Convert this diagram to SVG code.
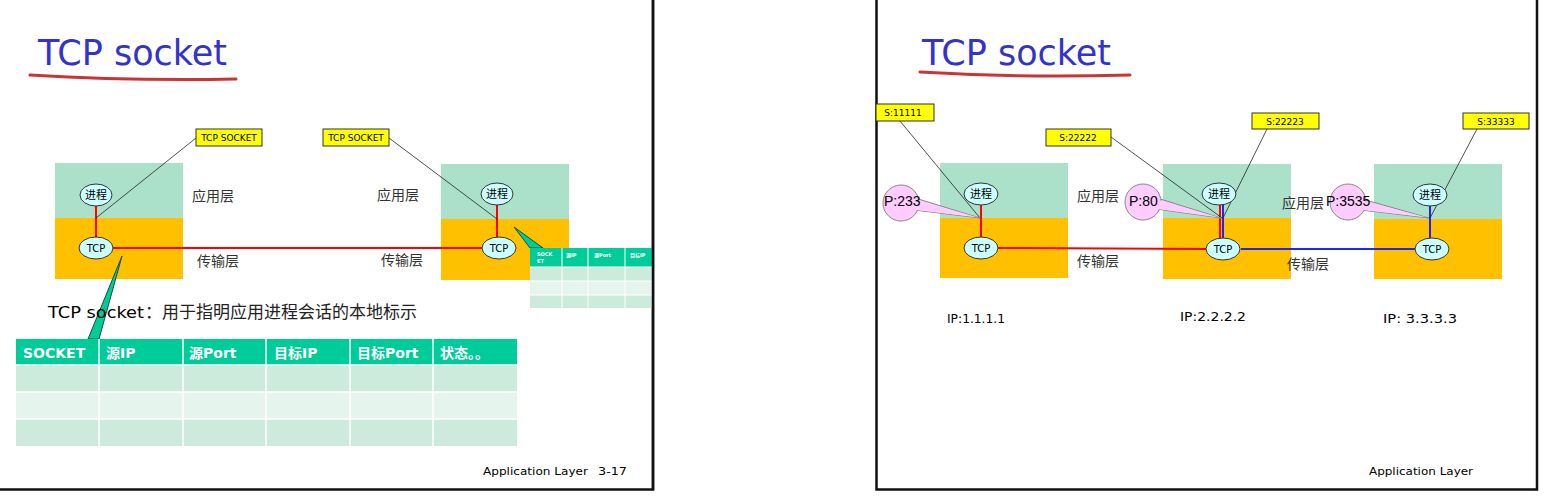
<svg xmlns="http://www.w3.org/2000/svg" width="1544" height="497" viewBox="0 0 1544 497">
<style>
.title{font-family:"DejaVu Sans",sans-serif;font-size:36px;fill:#3333CC}
.uline{fill:none;stroke:#CC3333;stroke-width:3;stroke-linecap:round}
.app{fill:#ABE1CA}
.tra{fill:#FFC000}
.ell{fill:#CCFFFF;stroke:#333;stroke-width:1}
.et{font-family:"Noto Sans CJK SC",sans-serif;font-size:11px;fill:#000;text-anchor:middle}
.tcpt{font-family:"DejaVu Sans",sans-serif;font-size:10px;fill:#000;text-anchor:middle}
.layer{font-family:"Noto Sans CJK SC",sans-serif;font-size:14px;fill:#333}
.lbl{fill:#FFFF00;stroke:#333;stroke-width:1}
.lblt{font-family:"DejaVu Sans",sans-serif;font-size:9px;fill:#000;text-anchor:middle}
.red{stroke:#FF0000;stroke-width:2;fill:none}
.blue{stroke:#2222FF;stroke-width:2;fill:none}
.thin{stroke:#222;stroke-width:0.8;fill:none}
.pink{fill:#FFCCFF;stroke:#888;stroke-width:1}
.pt{font-family:"Liberation Sans",sans-serif;font-size:14px;fill:#000}
.teal{fill:#00CC99;stroke:#1A4D3D;stroke-width:1}
.th{fill:#00CC99}
.r1{fill:#CCEBDD}
.r2{fill:#E6F4EE}
.grid{stroke:#FFFFFF;stroke-width:1.5}
.tht{font-family:"DejaVu Sans","Noto Sans CJK SC",sans-serif;font-size:14px;font-weight:bold;fill:#FFFFFF}
.ip{font-family:"DejaVu Sans",sans-serif;font-size:12px;fill:#000}
.foot{font-family:"DejaVu Sans",sans-serif;font-size:11px;fill:#000}
.border{stroke:#111;stroke-width:2.5;fill:none}
</style>

<!-- Slide frames -->
<g id="frames">
<polyline class="border" points="0,489.5 653,489.5 653,0"/>
<polyline class="border" points="876.5,0 876.5,489.5 1537,489.5 1537,0"/>
</g>

<!-- Titles -->
<g id="title-left">
<text class="title" x="38" y="65" textLength="189" lengthAdjust="spacingAndGlyphs">TCP socket</text>
<path class="uline" d="M30,75 Q130,81 236,79"/>
</g>
<g id="title-right">
<text class="title" x="922" y="65" textLength="189" lengthAdjust="spacingAndGlyphs">TCP socket</text>
<path class="uline" d="M920,72 Q1020,78 1130,75"/>
</g>

<!-- Left slide nodes -->
<g id="host-a">
<rect class="app" x="55" y="163" width="128" height="55"/>
<rect class="tra" x="55" y="218" width="128" height="61"/>
</g>
<g id="host-b">
<rect class="app" x="441" y="164" width="128" height="55"/>
<rect class="tra" x="441" y="219" width="128" height="61"/>
</g>
<g id="layer-labels-left">
<text class="layer" x="192" y="201">应用层</text>
<text class="layer" x="197" y="266">传输层</text>
<text class="layer" x="377" y="200">应用层</text>
<text class="layer" x="381" y="265">传输层</text>
</g>

<!-- Right slide nodes -->
<g id="host-1">
<rect class="app" x="940" y="163" width="128" height="55"/>
<rect class="tra" x="940" y="218" width="128" height="60"/>
</g>
<g id="host-2">
<rect class="app" x="1163" y="164" width="128" height="54"/>
<rect class="tra" x="1163" y="218" width="128" height="61"/>
</g>
<g id="host-3">
<rect class="app" x="1374" y="164" width="128" height="55"/>
<rect class="tra" x="1374" y="219" width="128" height="60"/>
</g>
<g id="layer-labels-right">
<text class="layer" x="1077" y="201">应用层</text>
<text class="layer" x="1077" y="266">传输层</text>
<text class="layer" x="1282" y="208">应用层</text>
<text class="layer" x="1287" y="269">传输层</text>
</g>

<!-- Connectors -->
<g id="connectors">
<line class="red" x1="96" y1="206" x2="96" y2="237"/>
<line class="red" x1="113" y1="248" x2="483" y2="248"/>
<line class="red" x1="497" y1="205" x2="497" y2="237"/>
<line class="thin" x1="196" y1="138" x2="96" y2="218"/>
<line class="thin" x1="389" y1="138" x2="497" y2="219"/>

<line class="red" x1="981" y1="205" x2="981" y2="237"/>
<line class="red" x1="998" y1="248" x2="1206" y2="249"/>
<line class="red" x1="1220" y1="205" x2="1220" y2="238"/>
<line class="blue" x1="1223" y1="205" x2="1223" y2="238"/>
<line class="blue" x1="1241" y1="249" x2="1415" y2="249"/>
<line class="blue" x1="1430" y1="206" x2="1430" y2="238"/>
<line class="thin" x1="900" y1="121" x2="980" y2="218"/>
<line class="thin" x1="1111" y1="137" x2="1222" y2="218"/>
<line class="thin" x1="1267" y1="129" x2="1223" y2="218"/>
<line class="thin" x1="1477" y1="129" x2="1430" y2="218"/>
</g>

<!-- Process / TCP ellipses -->
<g id="proc-a"><ellipse class="ell" cx="96" cy="195" rx="16" ry="11"/><text class="et" x="96" y="199">进程</text></g>
<g id="tcp-a"><ellipse class="ell" cx="96" cy="248" rx="17" ry="11"/><text class="tcpt" x="96" y="252">TCP</text></g>
<g id="proc-b"><ellipse class="ell" cx="497" cy="194" rx="16" ry="11"/><text class="et" x="497" y="198">进程</text></g>
<g id="tcp-b"><ellipse class="ell" cx="499" cy="248" rx="17" ry="11"/><text class="tcpt" x="499" y="252">TCP</text></g>

<g id="proc-1"><ellipse class="ell" cx="981" cy="194" rx="17" ry="11"/><text class="et" x="981" y="198">进程</text></g>
<g id="tcp-1"><ellipse class="ell" cx="981" cy="248" rx="17" ry="11"/><text class="tcpt" x="981" y="252">TCP</text></g>
<g id="proc-2"><ellipse class="ell" cx="1219" cy="194" rx="17" ry="11"/><text class="et" x="1219" y="198">进程</text></g>
<g id="tcp-2"><ellipse class="ell" cx="1223" cy="249" rx="17" ry="11"/><text class="tcpt" x="1223" y="253">TCP</text></g>
<g id="proc-3"><ellipse class="ell" cx="1430" cy="195" rx="17" ry="11"/><text class="et" x="1430" y="199">进程</text></g>
<g id="tcp-3"><ellipse class="ell" cx="1432" cy="249" rx="17" ry="11"/><text class="tcpt" x="1432" y="253">TCP</text></g>

<!-- Yellow labels -->
<g id="lbl-socket-a"><rect class="lbl" x="196" y="129" width="66" height="17"/><text class="lblt" x="229" y="141">TCP SOCKET</text></g>
<g id="lbl-socket-b"><rect class="lbl" x="323" y="129" width="66" height="17"/><text class="lblt" x="356" y="141">TCP SOCKET</text></g>
<g id="lbl-s11111"><rect class="lbl" x="876" y="104" width="58" height="17"/><text class="lblt" x="903" y="116">S:11111</text></g>
<g id="lbl-s22222"><rect class="lbl" x="1046" y="129" width="65" height="17"/><text class="lblt" x="1078" y="141">S:22222</text></g>
<g id="lbl-s22223"><rect class="lbl" x="1252" y="113" width="67" height="16"/><text class="lblt" x="1285" y="125">S:22223</text></g>
<g id="lbl-s33333"><rect class="lbl" x="1463" y="113" width="66" height="16"/><text class="lblt" x="1496" y="125">S:33333</text></g>

<!-- Pink port callouts -->
<g id="port-233">
<polygon class="pink" points="915,198 980,218 914,210"/>
<circle class="pink" cx="901" cy="203" r="18"/>
<polygon points="913,199 978,217.5 912,209.5" fill="#FFCCFF"/>
<text class="pt" x="884" y="206">P:233</text>
</g>
<g id="port-80">
<polygon class="pink" points="1157,198 1221,218 1156,209"/>
<circle class="pink" cx="1143" cy="202" r="18"/>
<polygon points="1155,199 1219,217.5 1154,208.5" fill="#FFCCFF"/>
<text class="pt" x="1129" y="206">P:80</text>
</g>
<g id="port-3535">
<polygon class="pink" points="1362,199 1429,218 1361,210"/>
<circle class="pink" cx="1348" cy="202" r="18"/>
<polygon points="1360,200 1427,217.5 1359,209.5" fill="#FFCCFF"/>
<text class="pt" x="1326" y="206" font-size="13">P:3535</text>
</g>

<!-- IP labels -->
<g id="ip-labels">
<text class="ip" x="947" y="323" textLength="58" lengthAdjust="spacingAndGlyphs">IP:1.1.1.1</text>
<text class="ip" x="1180" y="321" textLength="66" lengthAdjust="spacingAndGlyphs">IP:2.2.2.2</text>
<text class="ip" x="1383" y="323" textLength="74" lengthAdjust="spacingAndGlyphs">IP: 3.3.3.3</text>
</g>

<!-- Teal callouts -->
<g id="callouts">
<polygon class="teal" points="122,256 88,339 99,339"/>
<polygon class="teal" points="514,227 530,248 543,248"/>
</g>

<!-- Description -->
<g id="description">
<text x="48" y="318" font-family="DejaVu Sans,sans-serif" font-size="16" fill="#000" textLength="96" lengthAdjust="spacingAndGlyphs">TCP socket</text>
<text x="145" y="318" font-family="Noto Sans CJK SC,sans-serif" font-size="17" fill="#222">：用于指明应用进程会话的本地标示</text>
</g>

<!-- Big table -->
<g id="socket-table">
<rect class="th" x="16" y="339" width="501" height="26"/>
<rect class="r1" x="16" y="365" width="501" height="27"/>
<rect class="r2" x="16" y="392" width="501" height="27"/>
<rect class="r1" x="16" y="419" width="501" height="27"/>
<g class="grid">
<line x1="16" y1="365" x2="517" y2="365"/>
<line x1="16" y1="392" x2="517" y2="392"/>
<line x1="16" y1="419" x2="517" y2="419"/>
<line x1="99" y1="339" x2="99" y2="446"/>
<line x1="183" y1="339" x2="183" y2="446"/>
<line x1="266" y1="339" x2="266" y2="446"/>
<line x1="350" y1="339" x2="350" y2="446"/>
<line x1="433" y1="339" x2="433" y2="446"/>
</g>
<text class="tht" x="23" y="358">SOCKET</text>
<text class="tht" x="106" y="358">源IP</text>
<text class="tht" x="189" y="358">源Port</text>
<text class="tht" x="274" y="358">目标IP</text>
<text class="tht" x="357" y="358">目标Port</text>
<text class="tht" x="440" y="358">状态。。</text>
</g>

<!-- Small table -->
<g id="small-table">
<rect class="th" x="530" y="248" width="123" height="19"/>
<rect class="r1" x="530" y="267" width="123" height="14"/>
<rect class="r2" x="530" y="281" width="123" height="14"/>
<rect class="r1" x="530" y="295" width="123" height="13"/>
<g class="grid" style="stroke-width:1">
<line x1="530" y1="267" x2="653" y2="267"/>
<line x1="530" y1="281" x2="653" y2="281"/>
<line x1="530" y1="295" x2="653" y2="295"/>
<line x1="562" y1="248" x2="562" y2="308"/>
<line x1="588" y1="248" x2="588" y2="308"/>
<line x1="625" y1="248" x2="625" y2="308"/>
</g>
<g font-family="DejaVu Sans,Noto Sans CJK SC,sans-serif" font-size="5" fill="#FFFFFF" font-weight="bold">
<text x="537" y="256">SOCK</text>
<text x="537" y="263">ET</text>
<text x="566" y="257">源IP</text>
<text x="594" y="257">源Port</text>
<text x="630" y="257">目标IP</text>
</g>
</g>

<!-- Footers -->
<g id="footers">
<text class="foot" x="483" y="475" textLength="105" lengthAdjust="spacingAndGlyphs">Application Layer</text>
<text class="foot" x="598" y="475" textLength="29" lengthAdjust="spacingAndGlyphs">3-17</text>
<text class="foot" x="1369" y="475" textLength="104" lengthAdjust="spacingAndGlyphs">Application Layer</text>
</g>

<!-- redraw frame edge over small table -->
<line class="border" x1="653" y1="0" x2="653" y2="490"/>
</svg>
